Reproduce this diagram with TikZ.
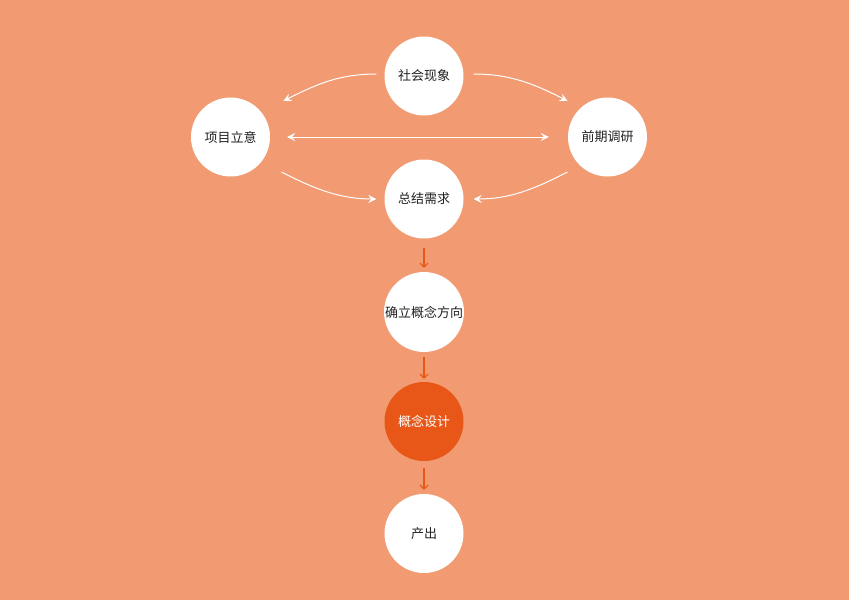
\documentclass[tikz,border=0pt]{standalone}
\usepackage{fontspec}
\newfontfamily\cjk{Noto Sans CJK SC}
\usetikzlibrary{arrows.meta,calc}
\definecolor{bg}{HTML}{F29A71}
\definecolor{deep}{HTML}{E85718}
\definecolor{txt}{HTML}{222222}
\begin{document}
\begin{tikzpicture}[x=1pt,y=-1pt,
  circ/.style={circle,fill=white,minimum size=79pt,inner sep=0pt,font=\cjk\fontsize{13pt}{15pt}\selectfont,text=txt},
  hot/.style={circ,fill=deep,text=white},
  wtip/.tip={Stealth[length=8pt,width=8pt,inset=3pt]},
  wa/.style={white,line width=1pt,-wtip},
  wab/.style={white,line width=1pt,wtip-wtip},
  oa/.style={deep,line width=1.1pt,-{Straight Barb[length=4pt,width=8pt]}}]
\fill[bg] (0,0) rectangle (849,600);
\useasboundingbox (0,0) rectangle (849,600);
\node[circ] (shehui) at (424,76) {社会现象};
\node[circ] (xiangmu) at (230.5,137) {项目立意};
\node[circ] (qianqi) at (607.5,137) {前期调研};
\node[circ] (zongjie) at (424,199) {总结需求};
\node[circ,text width=79pt,align=center] (queli) at (424,312) {确立概念方向};
\node[hot] (gainian) at (424,421.5) {概念设计};
\node[circ] (chanchu) at (424,533.5) {产出};
% white curved arrows
\draw[wa] ([shift={(-8,-2)}]shehui.west) .. controls +(-35,0) and +(35,-18) .. ([shift={(53,-36)}]xiangmu.center);
\draw[wa] ([shift={(10,-2)}]shehui.east) .. controls +(35,0) and +(-35,-18) .. ([shift={(-40,-36)}]qianqi.center);
\draw[wab] ([xshift=17]xiangmu.east) -- ([xshift=-19]qianqi.west);
\draw[wa] ([shift={(51,35)}]xiangmu.center) .. controls +(35,18) and +(-35,0) .. ([xshift=-8]zongjie.west);
\draw[wa] ([shift={(-40,35)}]qianqi.center) .. controls +(-35,18) and +(35,0) .. ([xshift=10]zongjie.east);
% orange arrows
\draw[oa] ([shift={(0,9)}]zongjie.south) -- ([shift={(0,-4)}]queli.north);
\draw[oa] ([shift={(0,5)}]queli.south) -- ([shift={(0,-3)}]gainian.north);
\draw[oa] ([shift={(0,7)}]gainian.south) -- ([shift={(0,-4)}]chanchu.north);
\end{tikzpicture}
\end{document}
